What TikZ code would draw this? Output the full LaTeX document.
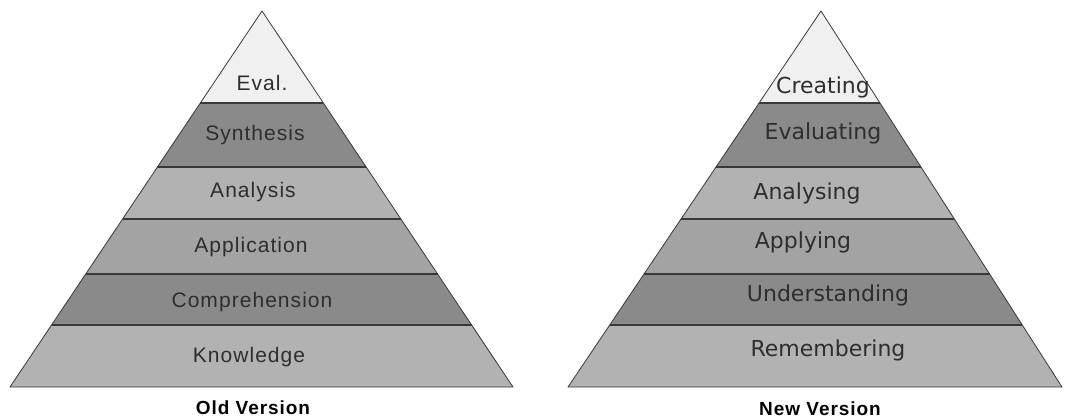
\documentclass[tikz,border=0pt]{standalone}
\usepackage{fontspec}
\setmainfont{Liberation Sans}
\newfontfamily\ovfont[LetterSpace=5]{Liberation Sans}
\newfontfamily\nvfont{DejaVu Sans}
\usetikzlibrary{calc}
\definecolor{pale}{gray}{0.94}
\definecolor{dark}{gray}{0.54}
\definecolor{mid}{gray}{0.64}
\definecolor{light}{gray}{0.70}
\definecolor{edge}{gray}{0.22}
\definecolor{ink}{gray}{0.18}

\begin{document}
\begin{tikzpicture}[x=1pt,y=-1pt]
  \tikzset{oldlbl/.style={text=ink,font=\ovfont\fontsize{21}{21}\selectfont},
           newlbl/.style={text=ink,font=\nvfont\fontsize{22}{22}\selectfont},
           caption/.style={text=black,font=\ovfont\bfseries\fontsize{19}{19}\selectfont},
           divider/.style={draw=edge,line width=1.4pt},
           side/.style={draw=edge,line width=0.8pt,line join=round}}
  \useasboundingbox[fill=white] (0,0) rectangle (1080,420);
  % old version
  \coordinate (oa) at (262,11);
  \coordinate (ol) at (10,387);
  \coordinate (or) at (513,387);
  \fill[pale] (oa) -- ($(oa)!0.2447!(or)$) -- ($(oa)!0.2447!(ol)$) -- cycle;
  \fill[dark] ($(oa)!0.2447!(ol)$) -- ($(oa)!0.2447!(or)$) -- ($(oa)!0.4149!(or)$) -- ($(oa)!0.4149!(ol)$) -- cycle;
  \fill[light] ($(oa)!0.4149!(ol)$) -- ($(oa)!0.4149!(or)$) -- ($(oa)!0.5532!(or)$) -- ($(oa)!0.5532!(ol)$) -- cycle;
  \fill[mid] ($(oa)!0.5532!(ol)$) -- ($(oa)!0.5532!(or)$) -- ($(oa)!0.6995!(or)$) -- ($(oa)!0.6995!(ol)$) -- cycle;
  \fill[dark] ($(oa)!0.6995!(ol)$) -- ($(oa)!0.6995!(or)$) -- ($(oa)!0.8351!(or)$) -- ($(oa)!0.8351!(ol)$) -- cycle;
  \fill[light] ($(oa)!0.8351!(ol)$) -- ($(oa)!0.8351!(or)$) -- (or) -- (ol) -- cycle;
  \draw[divider] ($(oa)!0.2447!(ol)$) -- ($(oa)!0.2447!(or)$);
  \draw[divider] ($(oa)!0.4149!(ol)$) -- ($(oa)!0.4149!(or)$);
  \draw[divider] ($(oa)!0.5532!(ol)$) -- ($(oa)!0.5532!(or)$);
  \draw[divider] ($(oa)!0.6995!(ol)$) -- ($(oa)!0.6995!(or)$);
  \draw[divider] ($(oa)!0.8351!(ol)$) -- ($(oa)!0.8351!(or)$);
  \draw[side] (oa) -- (or) -- (ol) -- cycle;
  \node[oldlbl] (eval) at (262,83) {Eval.};
  \node[oldlbl] (synth) at (255,135) {Synthesis};
  \node[oldlbl] (anal) at (253,192) {Analysis};
  \node[oldlbl] (appl) at (251,247) {Application};
  \node[oldlbl] (comp) at (252,302) {Comprehension};
  \node[oldlbl] (know) at (249,357) {Knowledge};
  \node[caption] (oldv) at (253,408) {Old Version};
  % new version
  \coordinate (na) at (821,11);
  \coordinate (nl) at (568,387);
  \coordinate (nr) at (1062,387);
  \fill[pale] (na) -- ($(na)!0.2447!(nr)$) -- ($(na)!0.2447!(nl)$) -- cycle;
  \fill[dark] ($(na)!0.2447!(nl)$) -- ($(na)!0.2447!(nr)$) -- ($(na)!0.4149!(nr)$) -- ($(na)!0.4149!(nl)$) -- cycle;
  \fill[light] ($(na)!0.4149!(nl)$) -- ($(na)!0.4149!(nr)$) -- ($(na)!0.5532!(nr)$) -- ($(na)!0.5532!(nl)$) -- cycle;
  \fill[mid] ($(na)!0.5532!(nl)$) -- ($(na)!0.5532!(nr)$) -- ($(na)!0.6995!(nr)$) -- ($(na)!0.6995!(nl)$) -- cycle;
  \fill[dark] ($(na)!0.6995!(nl)$) -- ($(na)!0.6995!(nr)$) -- ($(na)!0.8351!(nr)$) -- ($(na)!0.8351!(nl)$) -- cycle;
  \fill[light] ($(na)!0.8351!(nl)$) -- ($(na)!0.8351!(nr)$) -- (nr) -- (nl) -- cycle;
  \draw[divider] ($(na)!0.2447!(nl)$) -- ($(na)!0.2447!(nr)$);
  \draw[divider] ($(na)!0.4149!(nl)$) -- ($(na)!0.4149!(nr)$);
  \draw[divider] ($(na)!0.5532!(nl)$) -- ($(na)!0.5532!(nr)$);
  \draw[divider] ($(na)!0.6995!(nl)$) -- ($(na)!0.6995!(nr)$);
  \draw[divider] ($(na)!0.8351!(nl)$) -- ($(na)!0.8351!(nr)$);
  \draw[side] (na) -- (nr) -- (nl) -- cycle;
  \node[newlbl] (creat) at (823,87) {Creating};
  \node[newlbl] (evalg) at (823,133) {Evaluating};
  \node[newlbl] (analg) at (807,193) {Analysing};
  \node[newlbl] (applg) at (803,242) {Applying};
  \node[newlbl] (under) at (828,295) {Understanding};
  \node[newlbl] (remem) at (828,350) {Remembering};
  \node[caption] (newv) at (820,409) {New Version};
\end{tikzpicture}
\end{document}
